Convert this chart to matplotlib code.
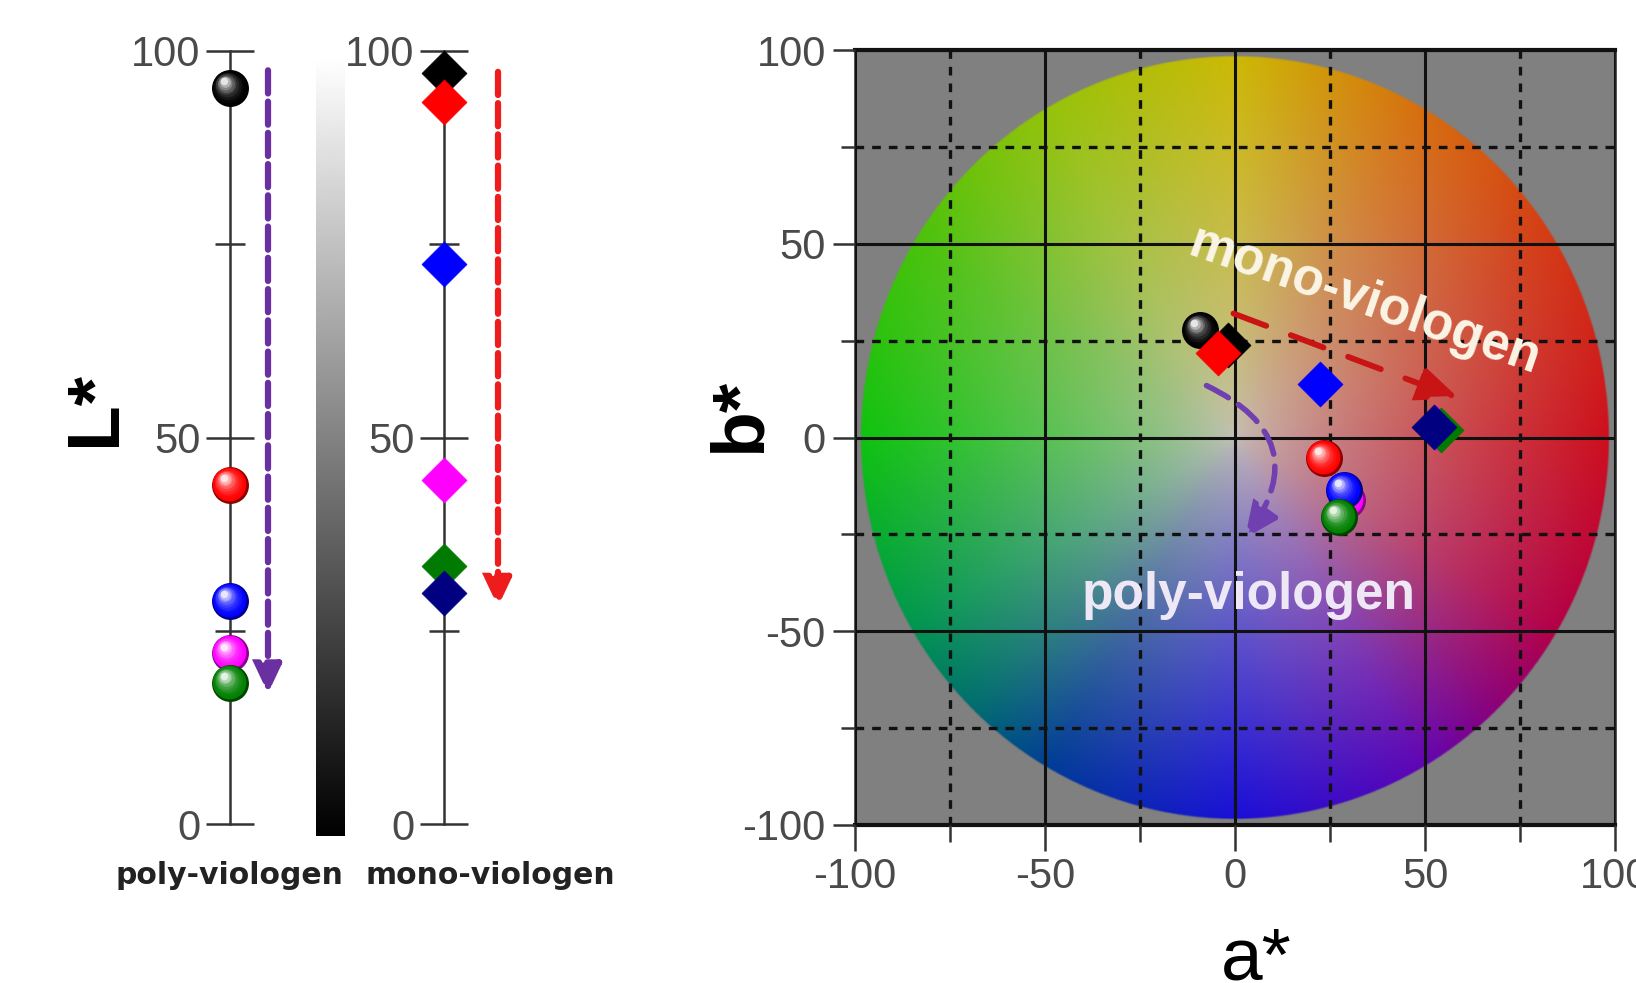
import numpy as np
import matplotlib
matplotlib.use("Agg")
import matplotlib.pyplot as plt
import matplotlib.colors as mcolors
import matplotlib.transforms as mtransforms
from matplotlib.patches import FancyArrowPatch

# ---------------- data ----------------
poly_names = ["black", "red", "blue", "magenta", "green"]
poly_colors = ["#000000", "#ff0000", "#0000ff", "#ff00ff", "#008000"]
poly_L = [95.2, 43.9, 28.9, 22.1, 18.3]
poly_a = [-9.2, 23.3, 28.6, 29.4, 27.3]
poly_b = [27.8, -5.3, -13.5, -16.0, -20.5]
poly_ab_order = [0, 1, 3, 2, 4]          # drawing order on the a*b* plane

mono_names = ["black", "red", "blue", "magenta", "green", "navy"]
mono_colors = ["#000000", "#ff0000", "#0000ff", "#ff00ff", "#007a00", "#000080"]
mono_L = [97.1, 93.4, 72.5, 44.5, 33.4, 29.9]
mono_a = [-1.8, -4.4, 22.4, 53.0, 54.1, 52.3]
mono_b = [24.0, 21.9, 13.8, 2.5, 2.0, 2.8]

L_major = [0, 50, 100]
L_minor = [25, 75]
ab_major = [-100, -50, 0, 50, 100]
ab_minor = [-75, -25, 25, 75]

panel_labels = ["poly-viologen", "mono-viologen"]

# colour-wheel appearance (hue anchors around the a*b* plane)
wheel_angles = [0, 30, 60, 90, 120, 150, 180, 210, 225, 240, 270, 300, 315, 330, 360]
wheel_R = [205, 212, 215, 205, 150, 70, 15, 0, 0, 0, 25, 95, 140, 180, 205]
wheel_G = [15, 55, 110, 185, 195, 195, 195, 150, 110, 60, 15, 5, 0, 0, 15]
wheel_B = [30, 20, 15, 5, 10, 10, 15, 80, 110, 150, 215, 180, 120, 70, 30]
wheel_center = [196, 192, 184]
wheel_radius = 98.5

plt.rcParams["font.family"] = ["Liberation Sans", "DejaVu Sans"]
plt.rcParams["axes.unicode_minus"] = False

W, H = 1636, 983
fig = plt.figure(figsize=(W / 100, H / 100), dpi=100)


def rect(x0, y0, x1, y1):
    return [x0 / W, 1 - y1 / H, (x1 - x0) / W, (y1 - y0) / H]


TICK_C = "#333333"
LAB_C = "#4a4a4a"


def draw_spheres(ax, xs, ys, colors, d_pt, z, order=None):
    idx = order if order is not None else range(len(xs))
    for k, j in enumerate(idx):
        base = np.array(mcolors.to_rgb(colors[j]))
        layers = 10
        for i in range(layers):
            f = i / (layers - 1)
            size = d_pt * (1 - 0.8 * f)
            if i == 0:
                col = base * 0.55
            else:
                col = base + (1 - base) * (0.9 * f ** 2.2)
            dx = -0.15 * d_pt * f
            dy = 0.18 * d_pt * f
            tr = mtransforms.offset_copy(ax.transData, fig=fig, x=dx, y=dy, units="points")
            ax.scatter([xs[j]], [ys[j]], s=size ** 2, color=col, linewidths=0,
                       transform=tr, zorder=z + k * 0.1 + i * 0.005, clip_on=False)


def draw_diamonds(ax, xs, ys, colors, ms, z):
    for k in range(len(xs)):
        ax.scatter([xs[k]], [ys[k]], s=ms ** 2, marker="D", color=colors[k],
                   edgecolors=colors[k], linewidths=0.5, zorder=z + k * 0.1, clip_on=False)


def dashed_arrow(ax, p0, p1, color, lw, dash, hl, hw, rad=0.0):
    arr = FancyArrowPatch(p0, p1, arrowstyle=f"-|>,head_length={hl},head_width={hw}",
                          connectionstyle=f"arc3,rad={rad}", mutation_scale=20,
                          color=color, lw=lw, linestyle=(0, dash), zorder=8,
                          shrinkA=0, shrinkB=0, clip_on=False, joinstyle="miter")
    ax.add_patch(arr)


# ---------------- left panel: L* axes ----------------
def l_axis(x_px, width_px):
    ax = fig.add_axes(rect(x_px, 51, x_px + width_px, 824))
    ax.set_xlim(0, width_px)
    ax.set_ylim(0, 100)
    ax.patch.set_alpha(0)
    for s in ["top", "right", "bottom"]:
        ax.spines[s].set_visible(False)
    ax.spines["left"].set_linewidth(1.8)
    ax.spines["left"].set_color(TICK_C)
    ax.set_xticks([])
    ax.set_yticks(L_major)
    ax.set_yticks(L_minor, minor=True)
    ax.tick_params(axis="y", which="major", direction="inout", length=34, width=1.8,
                   color=TICK_C, pad=4, labelsize=30, labelcolor=LAB_C)
    ax.tick_params(axis="y", which="minor", direction="inout", length=21, width=1.8,
                   color=TICK_C, labelleft=False)
    return ax


ax_p = l_axis(229.5, 70)
draw_spheres(ax_p, [0] * len(poly_L), poly_L, poly_colors, 26.6, 5)
dashed_arrow(ax_p, (38.5, 97.5), (38.5, 16.9), "#6a2fa0", 4.5, (3.7, 1.3), 0.85, 0.4)

ax_m = l_axis(443.5, 80)
draw_diamonds(ax_m, [0] * len(mono_L), mono_L, mono_colors, 22.9, 5)
dashed_arrow(ax_m, (54.5, 97.3), (54.5, 28.1), "#ee1c1c", 4.5, (3.7, 1.3), 0.85, 0.4)

# grey lightness bar
ax_g = fig.add_axes(rect(316, 58, 345, 836))
ax_g.imshow(np.linspace(0, 1, 512)[:, None], cmap="gray", origin="lower",
            aspect="auto", vmin=0, vmax=1, interpolation="bilinear")
ax_g.axis("off")

fig.text(95 / W, 1 - 409 / H, "L*", rotation=90, ha="center", va="center",
         fontsize=54, fontweight="bold", color="black")
fig.text(229.5 / W, 1 - 884 / H, panel_labels[0], ha="center", va="baseline",
         fontsize=21.5, fontweight="bold", color="#222222", family="DejaVu Sans")
fig.text(490 / W, 1 - 884 / H, panel_labels[1], ha="center", va="baseline",
         fontsize=21.5, fontweight="bold", color="#222222", family="DejaVu Sans")

# ---------------- right panel: a*b* plane ----------------
ax = fig.add_axes(rect(855, 50, 1615, 825))
ax.set_xlim(-100, 100)
ax.set_ylim(-100, 100)
ax.set_facecolor("#808080")

n = 900
g = np.linspace(-100, 100, n)
A, B = np.meshgrid(g, g)
r = np.hypot(A, B)
theta = np.degrees(np.arctan2(B, A)) % 360
hue = np.stack([np.interp(theta, wheel_angles, ch) for ch in (wheel_R, wheel_G, wheel_B)], -1) / 255
t = np.clip(r / wheel_radius, 0, 1) ** 0.75
c0 = np.array(wheel_center) / 255
img = c0 * (1 - t)[..., None] + hue * t[..., None]
alpha = np.clip((wheel_radius - r) / 0.5 + 0.5, 0, 1)
ax.imshow(np.dstack([img, alpha]), extent=(-100, 100, -100, 100), origin="lower",
          aspect="auto", zorder=0, interpolation="bilinear")

ax.set_xticks(ab_major)
ax.set_xticks(ab_minor, minor=True)
ax.set_yticks(ab_major)
ax.set_yticks(ab_minor, minor=True)
ax.set_axisbelow(False)
ax.grid(which="major", color="#111111", lw=2.2, ls="-")
ax.grid(which="minor", color="#111111", lw=2.4, ls=(0, (2.6, 2.4)))
ax.tick_params(axis="x", which="major", direction="out", length=19, width=1.8,
               color=TICK_C, pad=4, labelsize=30, labelcolor=LAB_C)
ax.tick_params(axis="x", which="minor", direction="out", length=12, width=1.8, color=TICK_C)
ax.tick_params(axis="y", which="major", direction="out", length=16, width=1.8,
               color=TICK_C, pad=5, labelsize=30, labelcolor=LAB_C)
ax.tick_params(axis="y", which="minor", direction="out", length=10, width=1.8, color=TICK_C)
for s in ["top", "bottom"]:
    ax.spines[s].set_linewidth(3)
    ax.spines[s].set_color("#111111")
for s in ["left", "right"]:
    ax.spines[s].set_linewidth(1.8)
    ax.spines[s].set_color("#222222")

draw_spheres(ax, poly_a, poly_b, poly_colors, 26.6, 5, order=poly_ab_order)
draw_diamonds(ax, mono_a, mono_b, mono_colors, 22.9, 6)

dashed_arrow(ax, (-0.4, 32.0), (59.0, 10.0), "#c81414", 4.2, (6.0, 4.5), 1.2, 0.5)
dashed_arrow(ax, (-7.5, 13.4), (2.6, -26.0), "#7040b0", 4.0, (4.5, 2.2), 1.0, 0.45, rad=-0.6)

ax.text(34, 35, "mono-viologen", rotation=-19, rotation_mode="anchor", ha="center",
        va="center", fontsize=37, fontweight="bold", color="#fbf5e6", zorder=9)
ax.text(3.6, -44.3, "poly-viologen", ha="center", va="baseline", fontsize=37,
        fontweight="bold", color="#eee8f6", zorder=9)

fig.text(740 / W, 1 - 415 / H, "b*", rotation=90, ha="center", va="center",
         fontsize=54, fontweight="bold", color="black")
fig.text(1256 / W, 1 - 980 / H, "a*", ha="center", va="baseline",
         fontsize=54, color="black")

fig.savefig("out.png", dpi=100, facecolor="white")
